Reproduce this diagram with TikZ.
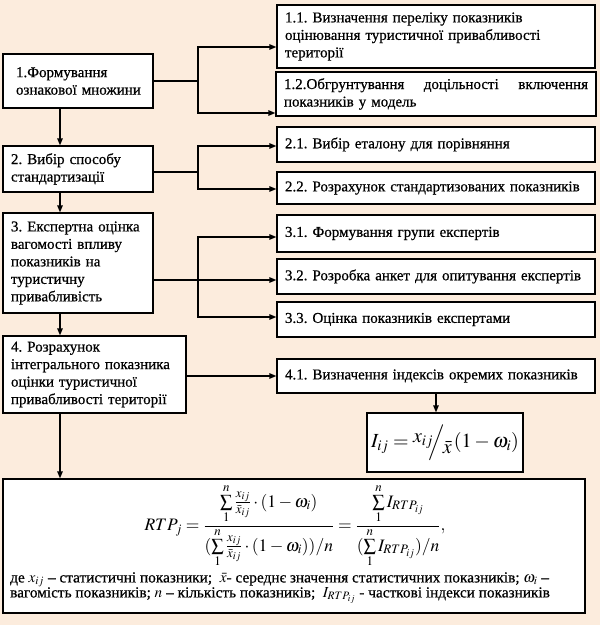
\documentclass[tikz,border=0pt]{standalone}
\usepackage{mathptmx}
\usepackage{fontspec}
\setmainfont{Liberation Serif}[FakeBold=0.6]
\usetikzlibrary{arrows.meta}
\definecolor{bg}{RGB}{252,236,221}
\begin{document}
\frenchspacing
\begin{tikzpicture}[x=1pt,y=-1pt,
  box/.style={draw, line width=1.3pt, fill=white, inner xsep=8pt, inner ysep=1pt,
    align=left, font=\frenchspacing\fontsize{15}{17.5}\selectfont},
  arr/.style={line width=1.3pt, -{Triangle[length=7pt,width=5.5pt]}},
  ln/.style={line width=1.3pt}]
\fill[bg] (0,0) rectangle (600,625);
\useasboundingbox (0,0) rectangle (600,625);
% left column
\node[box, minimum width=150pt, minimum height=54pt, text width=134pt] (b1) at (78,81)
  {\hspace*{5pt}1.Формування\\\hspace*{5pt}ознакової множини};
\node[box, minimum width=150pt, minimum height=46pt, text width=134pt] (b2) at (78,169)
  {2. Вибір способу\\стандартизації};
\node[box, minimum width=150pt, minimum height=100pt, text width=134pt] (b3) at (78,263)
  {3. Експертна оцінка\\вагомості впливу\\показників на\\туристичну\\привабливість};
\node[box, minimum width=183pt, minimum height=77pt, text width=167pt] (b4) at (94.5,374.5)
  {4. Розрахунок\\інтегрального показника\\оцінки туристичної\\привабливості території};
% right column
\node[box, minimum width=318pt, minimum height=63pt, text width=302pt] (b11) at (436,36.5)
  {1.1. Визначення переліку показників\\оцінювання туристичної привабливості\\території};
\node[box, minimum width=318pt, minimum height=44pt, text width=304pt] (b12) at (436,94)
  {1.2.Обгрунтування\hfill доцільності\hfill включення\\показників у модель};
\node[box, minimum width=318pt, minimum height=35pt, text width=302pt] (b21) at (436,144.5)
  {2.1. Вибір еталону для порівняння};
\node[box, minimum width=318pt, minimum height=32pt, text width=302pt] (b22) at (436,188)
  {2.2. Розрахунок стандартизованих показників};
\node[box, minimum width=318pt, minimum height=37pt, text width=302pt] (b31) at (436,233.5)
  {3.1. Формування групи експертів};
\node[box, minimum width=318pt, minimum height=35pt, text width=302pt] (b32) at (436,276.5)
  {3.2. Розробка анкет для опитування експертів};
\node[box, minimum width=318pt, minimum height=35pt, text width=302pt] (b33) at (436,319.5)
  {3.3. Оцінка показників експертами};
\node[box, minimum width=318pt, minimum height=34pt, text width=302pt] (b41) at (436,376)
  {4.1. Визначення індексів окремих показників};
\node[box, minimum width=156pt, minimum height=59pt, align=center, inner xsep=0pt,
  font=\fontsize{20}{24}\selectfont] (fI) at (445,442.5)
  {$I_{ij}=\raisebox{0.55ex}{$x_{ij}$}\!\!\Big/\!\raisebox{-0.7ex}{$\bar{x}$}\,(1-\omega_i)$};
% bottom box
\node[box, minimum width=582pt, minimum height=134pt] (bot) at (294,546) {};
\node[font=\fontsize{17.5}{21}\selectfont, inner sep=0pt] (frm) at (295,526)
  {$\displaystyle RTP_j=\frac{\sum\limits_1^n\frac{x_{ij}}{\bar{x}_{ij}}\cdot(1-\omega_i)}{(\sum\limits_1^n\frac{x_{ij}}{\bar{x}_{ij}}\cdot(1-\omega_i))/n}=\frac{\sum\limits_1^n I_{RTP_{ij}}}{(\sum\limits_1^n I_{RTP_{ij}})/n},$};
\node[font=\frenchspacing\fontsize{15.3}{15}\selectfont, align=left, inner sep=0pt, anchor=west] (txt) at (10,588)
  {де $x_{ij}$ -- статистичні показники; \ $\bar{x}$- середнє значення статистичних показників; $\omega_i$ --\\
   вагомість показників; $n$ -- кількість показників; \ $I_{RTP_{ij}}$ - часткові індекси показників};
% junctions
\coordinate (spine) at (60,0);
\coordinate (j1) at (198,81);
\coordinate (j2) at (198,172);
\coordinate (j3) at (198,280);
% connectors
\draw[ln] (b1.east) -- (j1);
\draw[arr] (j1) |- (b11.west |- 0,47);
\draw[arr] (j1) |- (b12.west |- 0,113);
\draw[ln] (b2.east |- j2) -- (j2);
\draw[arr] (j2) |- (b21.west |- 0,146);
\draw[arr] (j2) |- (b22.west |- 0,189);
\draw[ln] (b3.east |- j3) -- (j3);
\draw[arr] (j3) |- (b31.west |- 0,237);
\draw[arr] (j3) -- (b32.west |- j3);
\draw[arr] (j3) |- (b33.west |- 0,317);
\draw[arr] (b4.east |- b41.west) -- (b41.west);
\draw[arr] (b41.south) -- (b41.south |- fI.north);
\draw[arr] (b1.south -| spine) -- (b2.north -| spine);
\draw[arr] (b2.south -| spine) -- (b3.north -| spine);
\draw[arr] (b3.south -| spine) -- (b4.north -| spine);
\draw[arr] (b4.south -| spine) -- (bot.north -| spine);
\end{tikzpicture}
\end{document}
